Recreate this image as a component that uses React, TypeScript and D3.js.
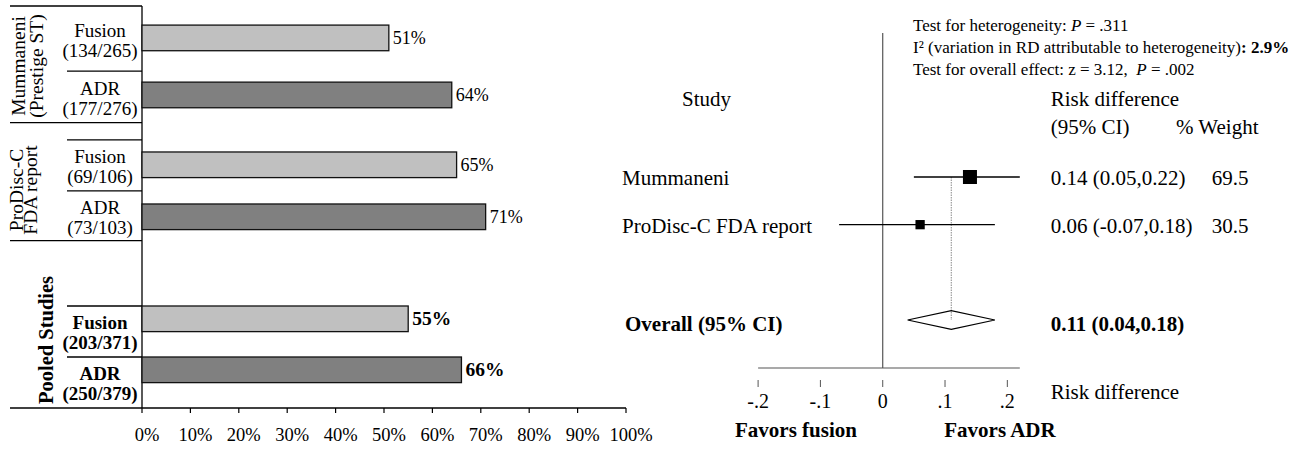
import * as d3 from "d3";

// left panel: proportions per arm
const groupNames = [["Mummaneni", "(Prestige ST)"], ["ProDisc-C", "FDA report"], ["Pooled Studies"]];
const arms = ["Fusion", "ADR"];
const armCounts = [["134/265", "177/276"], ["69/106", "73/103"], ["203/371", "250/379"]];
const armPct = [[51, 64], [65, 71], [55, 66]];
const pctTicks = [0, 10, 20, 30, 40, 50, 60, 70, 80, 90, 100];

// right panel: risk difference forest plot
const studies = ["Mummaneni", "ProDisc-C FDA report"];
const rd = [0.14, 0.06];
const rdLow = [0.05, -0.07];
const rdHigh = [0.22, 0.18];
const rdText = ["0.14 (0.05,0.22)", "0.06 (-0.07,0.18)"];
const weights = [69.5, 30.5];
const overallEst = 0.11;
const overallLow = 0.04;
const overallHigh = 0.18;
const rdTicks = [-0.2, -0.1, 0, 0.1, 0.2];
const rdTickLabels = ["-.2", "-.1", "0", ".1", ".2"];

const serif = "'Liberation Serif', 'Times New Roman', serif";

function BarPanel() {
  const x = d3.scaleLinear().domain([0, 100]).range([142, 626]);
  const yU = d3.scaleLinear().domain([0, 16]).range([6, 408]);

  // layout in row units
  const groupEdges = [0, 4.64, 9.34, 16];
  const cellEdges = [[0, 2.59, 4.64], [5.33, 7.36, 9.34], [11.94, 13.97, 16]];
  const barTops = [[0.76, 3.03], [5.81, 7.88], [11.94, 13.97]];
  const barH = 1.02;
  const groupLabelPos = [{x: 25, y: 66, dy: 18, size: 19.5}, {x: 23, y: 190, dy: 14, size: 19.5},
    {x: 53, y: 340, dy: 0, size: 20.5}];

  return <g fontFamily={serif} fill="#000">
    {groupEdges.map((u, i) =>
      <line key={"ge" + i} x1={10} x2={i === 3 ? x(100) : x(0)} y1={yU(u)} y2={yU(u)} stroke="#000" strokeWidth={1.3}/>)}
    {cellEdges.map((ce, gi) => ce.slice(0, 2).map((u, ci) =>
      (gi === 0 && ci === 0) ? null :
        <line key={"ce" + gi + ci} x1={67} x2={x(0)} y1={yU(u)} y2={yU(u)} stroke="#000" strokeWidth={1.3}/>))}
    <line x1={x(0)} x2={x(0)} y1={yU(0)} y2={yU(16)} stroke="#000" strokeWidth={1.3}/>
    {pctTicks.map(t => <g key={t}>
      <line x1={x(t)} x2={x(t)} y1={yU(16)} y2={yU(16) + 5} stroke="#000" strokeWidth={1.2}/>
      <text x={x(t) + 5} y={441} textAnchor="middle" fontSize={18.5}>{t}%</text>
    </g>)}
    {armPct.map((vals, gi) => vals.map((v, ai) => {
      const top = yU(barTops[gi][ai]);
      const h = yU(barH) - yU(0);
      const bold = gi === 2;
      const c0 = yU(cellEdges[gi][ai]);
      const c1 = yU(cellEdges[gi][ai + 1]);
      const cy = (c0 + c1) / 2;
      return <g key={gi + "-" + ai}>
        <rect x={x(0)} y={top} width={x(v) - x(0)} height={h}
              fill={ai === 0 ? "#c0c0c0" : "#808080"} stroke="#111" strokeWidth={1.3}/>
        <text x={x(v) + 4} y={top + h / 2 + 6} fontSize={bold ? 19.5 : 18}
              fontWeight={bold ? "bold" : "normal"}>{v}%</text>
        <text x={100} y={cy - 2} textAnchor="middle" fontSize={19}
              fontWeight={bold ? "bold" : "normal"}>{arms[ai]}</text>
        <text x={100} y={cy + 18} textAnchor="middle" fontSize={19}
              fontWeight={bold ? "bold" : "normal"}>({armCounts[gi][ai]})</text>
      </g>;
    }))}
    {groupNames.map((lines, gi) => {
      const p = groupLabelPos[gi];
      return <text key={"gn" + gi} transform={`translate(${p.x},${p.y}) rotate(-90)`} textAnchor="middle"
                   fontSize={p.size} fontWeight={gi === 2 ? "bold" : "normal"}>
        {lines.map((l, li) => <tspan key={li} x={0} y={li * p.dy}>{l}</tspan>)}
      </text>;
    })}
  </g>;
}

function ForestPanel() {
  const x = d3.scaleLinear().domain([-0.2, 0.22]).range([758.1, 1019.8]);
  const rows = d3.scalePoint<string>().domain([...studies, "gap", "Overall"]).range([177, 320]);
  const sq = d3.scaleSqrt().domain([0, 100]).range([0, 16.8]);
  const axisY = 368;
  const oy = rows("Overall")!;
  const labelX = 622;
  const valX = 1050.7;
  const wX = 1211.7;

  return <g fontFamily={serif} fill="#000">
    <text fontSize={17} style={{whiteSpace: "pre"}}>
      <tspan x={913} y={31}>Test for heterogeneity: <tspan fontStyle="italic">P</tspan> = .311</tspan>
      <tspan x={913} y={53}>I² (variation in RD attributable to heterogeneity)<tspan fontWeight="bold">: 2.9%</tspan></tspan>
      <tspan x={913} y={75}>Test for overall effect: z = 3.12,  <tspan fontStyle="italic">P</tspan> = .002</tspan>
    </text>
    <text x={682} y={106} fontSize={21}>Study</text>
    <text x={valX} y={106} fontSize={21}>Risk difference</text>
    <text x={valX} y={134} fontSize={21}>(95% CI)</text>
    <text x={1176} y={134} fontSize={21}>% Weight</text>

    <line x1={x(0)} x2={x(0)} y1={33} y2={axisY} stroke="#555" strokeWidth={1.2}/>
    <line x1={x(-0.2)} x2={x(0.22)} y1={axisY} y2={axisY} stroke="#555" strokeWidth={1.2}/>
    {rdTicks.map((t, i) => <g key={t}>
      <line x1={x(t)} x2={x(t)} y1={axisY + 12} y2={axisY + 19} stroke="#555" strokeWidth={1}/>
      <text x={x(t)} y={408} textAnchor="middle" fontSize={20}>{rdTickLabels[i]}</text>
    </g>)}
    <text x={valX} y={399} fontSize={21}>Risk difference</text>
    <text x={796} y={437} textAnchor="middle" fontSize={21} fontWeight="bold">Favors fusion</text>
    <text x={1000} y={437} textAnchor="middle" fontSize={21} fontWeight="bold">Favors ADR</text>

    <line x1={x(overallEst)} x2={x(overallEst)} y1={rows(studies[0])!} y2={oy} stroke="#888"
          strokeWidth={1} strokeDasharray="1.5,1"/>
    {studies.map((s, i) => {
      const y = rows(s)!;
      const size = sq(weights[i]);
      return <g key={s}>
        <line x1={x(rdLow[i])} x2={x(rdHigh[i])} y1={y} y2={y} stroke="#000" strokeWidth={1.3}/>
        <rect x={x(rd[i]) - size / 2} y={y - size / 2} width={size} height={size} fill="#000"/>
        <text x={labelX} y={y + 8} fontSize={21}>{s}</text>
        <text x={valX} y={y + 8} fontSize={21}>{rdText[i]}</text>
        <text x={wX} y={y + 8} fontSize={21}>{weights[i]}</text>
      </g>;
    })}
    <path d={`M${x(overallLow)},${oy} L${x(overallEst)},${oy - 9.3} L${x(overallHigh)},${oy} L${x(overallEst)},${oy + 9.3} Z`}
          fill="none" stroke="#000" strokeWidth={1.2}/>
    <text x={625} y={oy + 11} fontSize={21} fontWeight="bold">Overall (95% CI)</text>
    <text x={valX} y={oy + 11} fontSize={21} fontWeight="bold">
      {d3.format(".2f")(overallEst)} ({d3.format(".2f")(overallLow)},{d3.format(".2f")(overallHigh)})
    </text>
  </g>;
}

export default function App() {
  return <svg width={1301} height={451} style={{position: "absolute", left: 0, top: 0, background: "#fff"}}>
    <rect width={1301} height={451} fill="#fff"/>
    <BarPanel/>
    <ForestPanel/>
  </svg>;
}
